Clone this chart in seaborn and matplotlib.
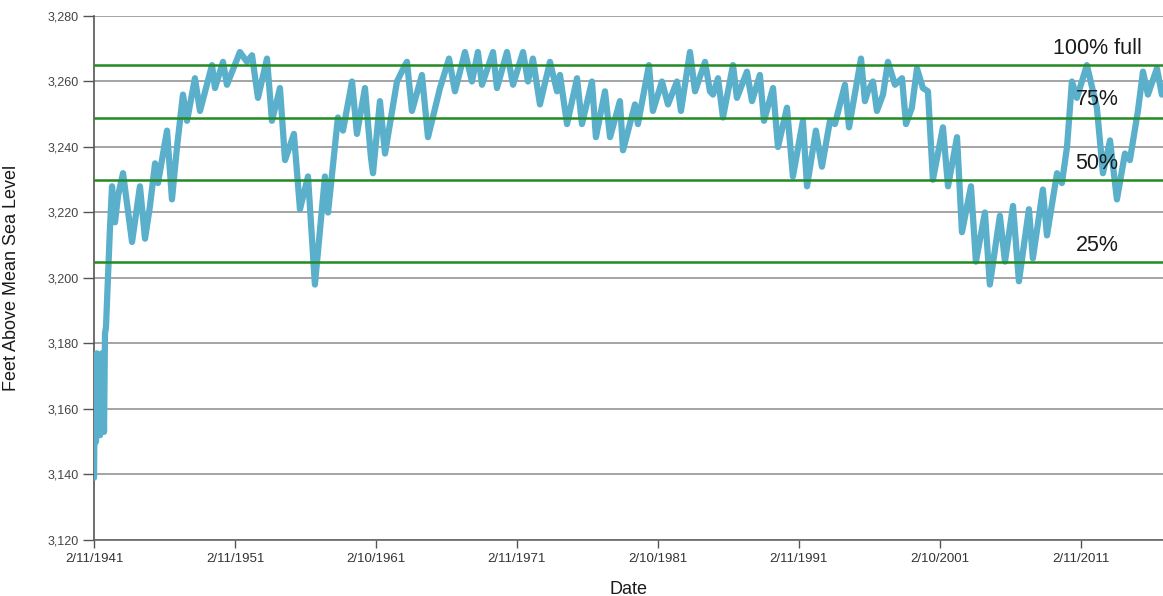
import numpy as np
import pandas as pd
import matplotlib
matplotlib.use("Agg")
import matplotlib.pyplot as plt
import seaborn as sns

# ---- data (decimal year, feet above mean sea level) ----
years = [
    1941.11, 1941.18, 1941.25, 1941.32, 1941.46, 1941.54, 1941.68, 1941.82, 1941.89, 1941.96,
    1942.10, 1942.24, 1942.39, 1942.60, 1942.81, 1943.17, 1943.81, 1944.37, 1944.73, 1945.08,
    1945.44, 1945.65, 1946.29, 1946.64, 1947.00, 1947.42, 1947.71, 1948.27, 1948.63, 1949.48,
    1949.69, 1950.26, 1950.54, 1951.46, 1951.96, 1952.32, 1952.74, 1953.38, 1953.73, 1954.30,
    1954.66, 1955.29, 1955.72, 1956.29, 1956.78, 1957.49, 1957.71, 1958.41, 1958.77, 1959.41,
    1959.76, 1960.33, 1960.75, 1960.90, 1961.39, 1961.75, 1962.60, 1963.17, 1963.31, 1963.66,
    1964.37, 1964.80, 1965.65, 1966.29, 1966.71, 1967.42, 1967.92, 1968.34, 1968.63, 1969.41,
    1969.69, 1970.40, 1970.83, 1971.54, 1971.89, 1972.24, 1972.74, 1973.45, 1973.95, 1974.16,
    1974.66, 1975.37, 1975.72, 1976.43, 1976.71, 1977.35, 1977.71, 1978.41, 1978.63, 1979.48,
    1979.69, 1980.47, 1980.75, 1981.39, 1981.82, 1982.46, 1982.74, 1983.38, 1983.74, 1984.45,
    1984.80, 1985.01, 1985.37, 1985.72, 1986.43, 1986.71, 1987.42, 1987.78, 1988.34, 1988.63,
    1989.27, 1989.62, 1990.26, 1990.68, 1991.39, 1991.68, 1992.31, 1992.74, 1993.31, 1993.66,
    1994.37, 1994.66, 1995.51, 1995.79, 1996.00, 1996.36, 1996.64, 1997.07, 1997.42, 1997.92,
    1998.42, 1998.70, 1999.12, 1999.48, 1999.90, 2000.26, 2000.61, 2001.32, 2001.68, 2002.32,
    2002.67, 2003.31, 2003.66, 2004.30, 2004.65, 2005.36, 2005.72, 2006.29, 2006.71, 2007.42,
    2007.70, 2008.41, 2008.70, 2009.41, 2009.76, 2010.12, 2010.47, 2010.82, 2011.53, 2012.24,
    2012.67, 2013.17, 2013.66, 2014.23, 2014.58, 2015.15, 2015.51, 2015.86, 2016.50, 2016.85,
]
elevation = [
    3139, 3170, 3150, 3177, 3175, 3152, 3177, 3153, 3183, 3185,
    3200, 3215, 3228, 3217, 3225, 3232, 3211, 3228, 3212, 3222,
    3235, 3229, 3245, 3224, 3240, 3256, 3248, 3261, 3251, 3265,
    3258, 3266, 3259, 3269, 3266, 3268, 3255, 3267, 3248, 3258,
    3236, 3244, 3221, 3231, 3198, 3231, 3220, 3249, 3245, 3260,
    3244, 3258, 3237, 3232, 3254, 3238, 3260, 3265, 3266, 3251,
    3262, 3243, 3258, 3267, 3257, 3269, 3260, 3269, 3259, 3269,
    3258, 3269, 3259, 3269, 3260, 3267, 3253, 3266, 3257, 3262,
    3247, 3261, 3247, 3260, 3243, 3257, 3243, 3254, 3239, 3253,
    3247, 3265, 3251, 3260, 3253, 3260, 3251, 3269, 3257, 3266,
    3257, 3256, 3261, 3249, 3265, 3255, 3263, 3254, 3262, 3248,
    3258, 3240, 3252, 3231, 3248, 3228, 3245, 3234, 3248, 3247,
    3259, 3246, 3267, 3254, 3257, 3260, 3251, 3256, 3266, 3259,
    3261, 3247, 3252, 3264, 3258, 3257, 3230, 3246, 3228, 3243,
    3214, 3228, 3205, 3220, 3198, 3219, 3205, 3222, 3199, 3221,
    3206, 3227, 3213, 3232, 3229, 3240, 3260, 3255, 3265, 3252,
    3232, 3242, 3224, 3238, 3236, 3251, 3263, 3256, 3264, 3256,
]

level_values = [3265, 3249, 3230, 3205]
level_labels = ["100% full", "75%", "50%", "25%"]
label_values = [3270, 3254.5, 3235, 3210]

tick_dates = ["1941-02-11", "1951-02-11", "1961-02-10", "1971-02-11",
              "1981-02-10", "1991-02-11", "2001-02-10", "2011-02-11"]
tick_labels = ["2/11/1941", "2/11/1951", "2/10/1961", "2/11/1971",
               "2/10/1981", "2/11/1991", "2/10/2001", "2/11/2011"]
y_ticks = list(range(3120, 3281, 20))


def to_datetime(decimal_years):
    out = []
    for y in decimal_years:
        yi = int(np.floor(y))
        start = pd.Timestamp(year=yi, month=1, day=1)
        out.append(start + pd.Timedelta(days=(y - yi) * 365.25))
    return out


df = pd.DataFrame({"Date": to_datetime(years), "Level": elevation})

sns.set_theme(style="white")
plt.rcParams["font.family"] = ["Liberation Sans", "DejaVu Sans"]

fig = plt.figure(figsize=(11.63, 5.96), dpi=100)
ax = fig.add_axes([94 / 1163, 1 - 540 / 596, 1 - 94 / 1163, (540 - 16) / 596])

# grid lines
for v in y_ticks:
    ax.axhline(v, color="#8c8c8c", lw=1.1, zorder=1)

sns.lineplot(data=df, x="Date", y="Level", ax=ax, color="#5aafcb", lw=4.5,
             zorder=3, solid_capstyle="round", solid_joinstyle="round")

for v in level_values:
    ax.axhline(v, color="#248a24", lw=1.8, zorder=4)

label_x = to_datetime([2012.25])[0]
for v, t in zip(label_values, level_labels):
    ax.text(label_x, v, t, ha="center", va="center", fontsize=15.5,
            color="#1a1a1a", zorder=5)

ax.set_ylim(3120, 3280)
ax.set_xlim(to_datetime([1941.11])[0], to_datetime([2016.93])[0])
ax.set_yticks(y_ticks)
ax.set_yticklabels([f"{v:,}" for v in y_ticks])
ax.set_xticks(pd.to_datetime(tick_dates))
ax.set_xticklabels(tick_labels)

ax.tick_params(axis="y", which="major", length=8, width=1, color="#555555",
               labelsize=9, labelcolor="#444444", pad=3, left=True)
ax.tick_params(axis="x", which="major", length=6, width=1, color="#555555",
               labelsize=9.5, labelcolor="#333333", pad=3, bottom=True)

for side in ["top", "right"]:
    ax.spines[side].set_visible(False)
ax.spines["left"].set_color("#555555")
ax.spines["bottom"].set_color("#666666")
ax.spines["left"].set_linewidth(1.2)
ax.spines["bottom"].set_linewidth(1.2)

ax.set_ylabel("Feet Above Mean Sea Level", fontsize=13, color="#1a1a1a", labelpad=20)
ax.set_xlabel("Date", fontsize=13, color="#1a1a1a", labelpad=12)
ax.grid(False)

fig.savefig("out.png", dpi=100)
